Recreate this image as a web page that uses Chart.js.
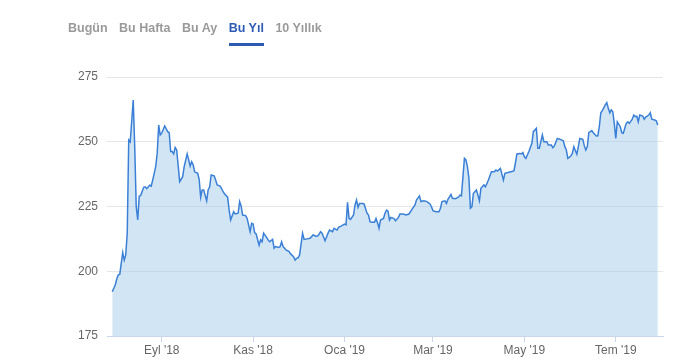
<!DOCTYPE html>
<html lang="tr">
<head>
<meta charset="UTF-8" />
<title>Bu Yıl</title>
<script src="https://cdn.jsdelivr.net/npm/chart.js"></script>
<style>
  body {
    margin: 0;
    background: #fff;
    font-family: "Liberation Sans", Arial, sans-serif;
  }
  .wrap {
    position: relative;
    width: 682px;
    height: 360px;
  }
  .tabs {
    position: absolute;
    left: 68px;
    top: 21px;
    font-size: 12.5px;
    font-weight: bold;
    color: #9a9a9a;
    white-space: nowrap;
    z-index: 2;
  }
  .tabs span {
    display: inline-block;
    margin-right: 11.5px;
    padding-bottom: 8px;
  }
  .tabs span.active {
    color: #2d5bb3;
    border-bottom: 3px solid #2d5bb3;
  }
  canvas {
    position: absolute;
    left: 0;
    top: 0;
  }
</style>
</head>
<body>
<div class="wrap">
  <div class="tabs">
    <span>Bugün</span><span>Bu Hafta</span><span>Bu Ay</span><span class="active">Bu Yıl</span><span>10 Yıllık</span>
  </div>
  <canvas id="priceChart" width="682" height="360"></canvas>
</div>

<script>
  // dates and closing values
  const dates = [
    '2018-07-30','2018-08-01','2018-08-02','2018-08-03','2018-08-04','2018-08-06','2018-08-07','2018-08-08','2018-08-09','2018-08-10',
    '2018-08-11','2018-08-13','2018-08-14','2018-08-15','2018-08-16','2018-08-17','2018-08-18','2018-08-20','2018-08-21','2018-08-22',
    '2018-08-24','2018-08-25','2018-08-26','2018-08-28','2018-08-29','2018-08-30','2018-08-31','2018-09-01','2018-09-03','2018-09-05',
    '2018-09-06','2018-09-07','2018-09-08','2018-09-09','2018-09-10','2018-09-11','2018-09-13','2018-09-15','2018-09-16','2018-09-18',
    '2018-09-19','2018-09-20','2018-09-21','2018-09-22','2018-09-23','2018-09-25','2018-09-26','2018-09-27','2018-09-28','2018-09-29',
    '2018-10-01','2018-10-02','2018-10-03','2018-10-04','2018-10-06','2018-10-07','2018-10-08','2018-10-10','2018-10-12','2018-10-13',
    '2018-10-15','2018-10-16','2018-10-17','2018-10-19','2018-10-20','2018-10-22','2018-10-23','2018-10-24','2018-10-25','2018-10-27',
    '2018-10-28','2018-10-30','2018-10-31','2018-11-01','2018-11-02','2018-11-03','2018-11-05','2018-11-06','2018-11-07','2018-11-08',
    '2018-11-10','2018-11-11','2018-11-12','2018-11-14','2018-11-15','2018-11-16','2018-11-18','2018-11-19','2018-11-20','2018-11-21',
    '2018-11-22','2018-11-23','2018-11-25','2018-11-26','2018-11-28','2018-11-29','2018-11-30','2018-12-01','2018-12-02','2018-12-04',
    '2018-12-05','2018-12-07','2018-12-09','2018-12-11','2018-12-13','2018-12-14','2018-12-15','2018-12-16','2018-12-17','2018-12-19',
    '2018-12-21','2018-12-22','2018-12-24','2018-12-25','2018-12-27','2018-12-28','2018-12-30','2019-01-01','2019-01-02','2019-01-03',
    '2019-01-04','2019-01-05','2019-01-07','2019-01-08','2019-01-09','2019-01-10','2019-01-11','2019-01-13','2019-01-14','2019-01-16',
    '2019-01-17','2019-01-18','2019-01-19','2019-01-21','2019-01-22','2019-01-23','2019-01-24','2019-01-25','2019-01-27','2019-01-28',
    '2019-01-29','2019-01-30','2019-01-31','2019-02-01','2019-02-03','2019-02-04','2019-02-06','2019-02-07','2019-02-09','2019-02-11',
    '2019-02-13','2019-02-15','2019-02-17','2019-02-18','2019-02-20','2019-02-21','2019-02-23','2019-02-25','2019-02-27','2019-02-28',
    '2019-03-01','2019-03-03','2019-03-05','2019-03-06','2019-03-07','2019-03-09','2019-03-10','2019-03-11','2019-03-13','2019-03-14',
    '2019-03-16','2019-03-18','2019-03-19','2019-03-20','2019-03-22','2019-03-23','2019-03-24','2019-03-25','2019-03-26','2019-03-27',
    '2019-03-28','2019-03-30','2019-03-31','2019-04-01','2019-04-02','2019-04-04','2019-04-05','2019-04-06','2019-04-07','2019-04-09',
    '2019-04-11','2019-04-12','2019-04-13','2019-04-15','2019-04-16','2019-04-17','2019-04-18','2019-04-20','2019-04-22','2019-04-24',
    '2019-04-25','2019-04-26','2019-04-28','2019-04-29','2019-04-30','2019-05-01','2019-05-02','2019-05-03','2019-05-04','2019-05-06',
    '2019-05-07','2019-05-09','2019-05-10','2019-05-11','2019-05-13','2019-05-14','2019-05-16','2019-05-17','2019-05-19','2019-05-20',
    '2019-05-21','2019-05-23','2019-05-25','2019-05-27','2019-05-28','2019-05-29','2019-05-30','2019-06-01','2019-06-02','2019-06-03',
    '2019-06-05','2019-06-06','2019-06-07','2019-06-09','2019-06-10','2019-06-11','2019-06-12','2019-06-13','2019-06-15','2019-06-16',
    '2019-06-18','2019-06-19','2019-06-20','2019-06-21','2019-06-22','2019-06-24','2019-06-25','2019-06-26','2019-06-27','2019-06-28',
    '2019-06-29','2019-06-30','2019-07-01','2019-07-02','2019-07-04','2019-07-05','2019-07-06','2019-07-07','2019-07-08','2019-07-09',
    '2019-07-10','2019-07-12','2019-07-13','2019-07-14','2019-07-15','2019-07-16','2019-07-17','2019-07-19','2019-07-20','2019-07-21',
    '2019-07-23','2019-07-24','2019-07-25','2019-07-27','2019-07-28','2019-07-29'
  ];

  const closes = [
    192.1,194.7,197.0,198.6,198.8,207.2,204.3,206.3,214.7,250.7,
    250.0,266.1,248.1,225.0,219.8,229.0,229.3,232.4,232.6,231.9,
    233.2,232.9,235.2,240.4,245.5,256.5,252.6,253.3,256.1,253.9,
    253.5,246.2,246.2,245.3,247.8,246.8,234.6,236.5,240.4,245.3,
    243.0,240.6,242.3,241.0,238.4,237.8,235.5,228.6,231.4,231.4,
    227.2,231.4,232.6,237.2,236.8,235.2,233.3,232.9,230.7,229.8,
    228.6,223.6,219.8,223.0,222.1,222.4,226.9,225.2,221.7,221.5,
    220.4,215.3,218.5,218.2,214.9,214.4,210.1,212.1,211.4,214.7,
    213.1,212.1,211.4,212.3,208.9,209.5,209.2,209.5,211.4,209.5,
    208.9,208.2,207.6,206.7,205.6,204.3,205.0,205.2,206.3,214.7,
    212.3,212.5,212.7,214.0,213.5,213.6,214.3,215.3,214.7,211.8,
    214.7,215.9,215.3,216.6,215.9,217.0,217.5,218.2,217.9,226.6,
    220.4,220.0,221.7,225.6,227.5,224.7,226.2,226.2,226.0,222.4,
    221.7,219.1,218.9,218.9,220.4,218.7,216.6,219.8,220.4,222.4,
    223.6,223.2,219.8,220.8,220.3,219.5,220.8,222.1,222.1,221.7,
    222.1,223.9,225.6,227.5,229.1,226.9,227.2,226.9,226.0,224.9,
    223.4,223.0,223.0,224.3,226.9,227.2,226.2,227.8,229.7,228.2,
    228.0,228.6,229.4,229.1,243.6,243.0,240.4,235.9,224.3,224.9,
    230.1,231.4,229.4,227.2,232.0,233.3,232.6,233.9,235.2,238.4,
    238.4,239.1,238.7,239.7,237.5,235.2,237.8,238.1,238.4,238.7,
    241.7,245.3,245.5,245.3,245.8,244.2,243.6,244.9,246.2,249.4,
    253.9,255.2,247.5,247.5,252.6,250.0,250.0,248.7,248.7,247.7,
    248.4,251.3,250.9,250.4,248.1,246.8,243.6,244.5,245.5,248.1,
    245.2,248.1,251.3,250.9,248.4,246.8,248.1,253.5,254.3,253.5,
    252.2,252.3,255.8,261.2,262.0,264.2,265.1,262.9,261.2,262.3,
    261.6,257.1,251.3,257.7,255.8,253.5,253.3,255.2,257.1,257.7,
    257.1,258.7,260.3,259.7,259.9,257.7,260.3,259.9,258.7,259.5,
    260.3,261.2,258.7,258.4,258.1,256.5
  ];

  // month ticks on the x axis
  const tickDates = ['2018-09-01', '2018-11-01', '2019-01-01', '2019-03-01', '2019-05-01', '2019-07-01'];
  const tickLabels = ["Eyl '18", "Kas '18", "Oca '19", "Mar '19", "May '19", "Tem '19"];
  const yTicks = [175, 200, 225, 250, 275];

  const DAY = 86400000;
  const startMs = Date.parse(dates[0]);
  const dayOf = d => (Date.parse(d) - startMs) / DAY;

  const points = dates.map((d, i) => ({ x: dayOf(d), y: closes[i] }));
  const tickDays = tickDates.map(dayOf);
  const lastDay = dayOf(dates[dates.length - 1]);

  const ctx = document.getElementById('priceChart').getContext('2d');

  new Chart(ctx, {
    type: 'line',
    data: {
      datasets: [{
        data: points,
        borderColor: '#3b80d6',
        backgroundColor: 'rgba(164, 203, 234, 0.5)',
        borderWidth: 1.5,
        pointRadius: 0,
        tension: 0,
        fill: 'start'
      }]
    },
    options: {
      responsive: false,
      animation: false,
      layout: { padding: { left: 0, right: 19, top: 77, bottom: 0 } },
      plugins: {
        legend: { display: false },
        tooltip: { enabled: false }
      },
      scales: {
        x: {
          type: 'linear',
          min: -3.5,
          max: lastDay + 3.5,
          afterBuildTicks: scale => {
            scale.ticks = tickDays.map(v => ({ value: v }));
          },
          afterFit: scale => { scale.height = 24; },
          ticks: {
            autoSkip: false,
            maxRotation: 0,
            padding: 1,
            color: '#666',
            font: { family: '"Liberation Sans", Arial, sans-serif', size: 12 },
            callback: (v, i) => tickLabels[i]
          },
          grid: {
            drawOnChartArea: false,
            drawTicks: true,
            tickLength: 6,
            color: '#ccd6eb'
          },
          border: { display: true, color: '#ccd6eb' }
        },
        y: {
          min: 175,
          max: 275,
          afterBuildTicks: scale => {
            scale.ticks = yTicks.map(v => ({ value: v }));
          },
          afterFit: scale => { scale.width = 107; },
          ticks: {
            padding: 9,
            color: '#666',
            font: { family: '"Liberation Sans", Arial, sans-serif', size: 12 }
          },
          grid: {
            color: '#e6e6e6',
            drawTicks: false
          },
          border: { display: false }
        }
      }
    }
  });
</script>
</body>
</html>
